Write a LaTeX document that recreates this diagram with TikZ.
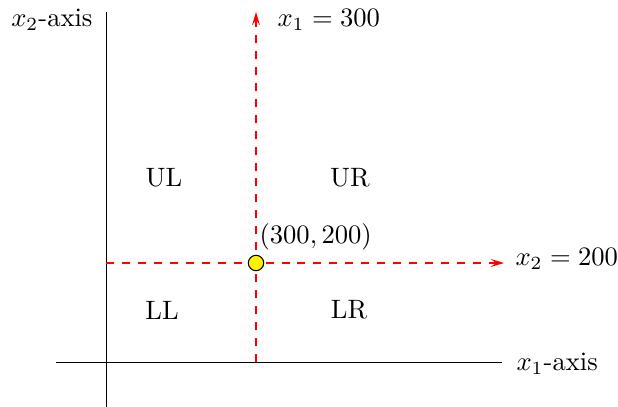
\documentclass[tikz,border=0pt]{standalone}
\usetikzlibrary{arrows.meta}
\begin{document}
\begin{tikzpicture}[x=0.376pt,y=-0.376pt,
  axisline/.style={line width=0.25pt},
  guide/.style={red,dashed,line width=0.45pt,-{Stealth[length=5pt,width=3pt,inset=2pt]}},
  lbl/.style={inner sep=0pt}]
\useasboundingbox (0,0) rectangle (618,407);
\coordinate (vtop) at (106,12);
\coordinate (vbot) at (106,407);
\coordinate (hleft) at (56,362);
\coordinate (hright) at (502,362);
\draw[axisline] (vbot) -- (vtop);
\draw[axisline] (hleft) -- (hright);
\node[lbl,anchor=east] (x2ax) at (93,20) {$x_2$-axis};
\node[lbl,anchor=west] (x1ax) at (516,364) {$x_1$-axis};
\coordinate (vstart) at (256,362);
\coordinate (vend) at (256,12);
\coordinate (hstart) at (106,263);
\coordinate (hend) at (504,263);
\draw[guide] (vstart) -- (vend);
\draw[guide] (hstart) -- (hend);
\node[circle,draw=black,fill=yellow,minimum size=5.8pt,inner sep=0pt,line width=0.4pt] (pt) at (256,263) {};
\node[lbl,anchor=west] (ptlbl) at (259,237) {$(300,200)$};
\node[lbl,anchor=west] (x1eq) at (277,20) {$x_1=300$};
\node[lbl,anchor=west] (x2eq) at (515,259) {$x_2=200$};
\node[lbl] (ul) at (164,178) {UL};
\node[lbl] (ur) at (350,178) {UR};
\node[lbl] (ll) at (162,310) {LL};
\node[lbl] (lr) at (349,310) {LR};
\end{tikzpicture}
\end{document}
